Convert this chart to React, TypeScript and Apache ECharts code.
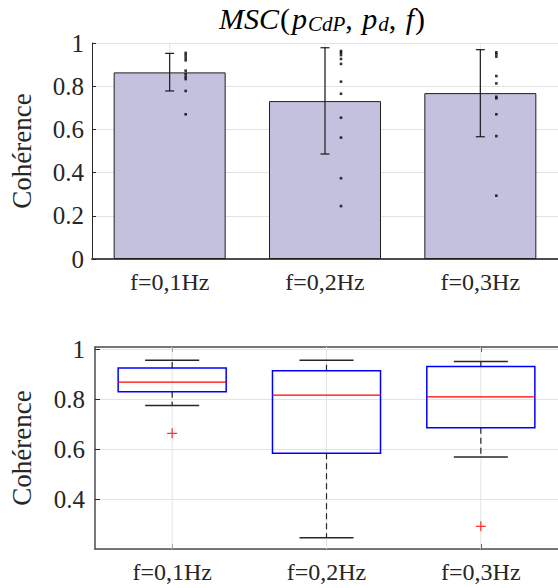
import React, { useEffect, useRef } from "react";
import * as echarts from "echarts";

const categories = ["f=0,1Hz", "f=0,2Hz", "f=0,3Hz"];
const barMeans = [0.864, 0.731, 0.768];
const errLow = [0.778, 0.486, 0.566];
const errHigh = [0.952, 0.978, 0.969];
const dotsF1 = [0.954, 0.943, 0.932, 0.92, 0.872, 0.856, 0.844, 0.833, 0.778, 0.67];
const dotsF2 = [0.963, 0.955, 0.944, 0.926, 0.903, 0.821, 0.765, 0.654, 0.562, 0.374, 0.245];
const dotsF3 = [0.957, 0.948, 0.937, 0.847, 0.813, 0.751, 0.744, 0.67, 0.569, 0.293];
const boxMin = [0.775, 0.245, 0.569];
const boxQ1 = [0.831, 0.584, 0.686];
const boxMedian = [0.869, 0.817, 0.81];
const boxQ3 = [0.926, 0.915, 0.932];
const boxMax = [0.957, 0.957, 0.952];
const outlierCat = [0, 2];
const outlierVal = [0.664, 0.291];
const topTicks = [0, 0.2, 0.4, 0.6, 0.8, 1];

const FONT = "'Liberation Serif', 'Times New Roman', Times, serif";
const TXT = "#262626";

export default function App() {
  const ref = useRef<HTMLDivElement>(null);
  useEffect(() => {
    if (!ref.current) return;
    const chart = echarts.init(ref.current, null, { renderer: "svg" });
    const dotSets = [dotsF1, dotsF2, dotsF3];
    const dotData: number[][] = [];
    dotSets.forEach((arr, i) => arr.forEach((v) => dotData.push([i, v])));

    const gridLineItem = (params: any, api: any) => {
      const x = api.coord([api.value(0), api.value(1)])[0];
      const cs = params.coordSys;
      return {
        type: "line",
        shape: { x1: x, y1: cs.y, x2: x, y2: cs.y + cs.height },
        style: { stroke: "#e3e3e3", lineWidth: 1 },
      };
    };

    const option: any = {
      animation: false,
      textStyle: { fontFamily: FONT, color: TXT },
      graphic: [
        {
          type: "text",
          x: 323,
          y: 18,
          style: {
            text: "{i|MSC}{r|(}{i|p}{s|CdP}{r|, }{i|p}{s|d}{r|, }{i|f}{r|)}",
            align: "center",
            verticalAlign: "middle",
            rich: {
              i: { fontFamily: FONT, fontStyle: "italic", fontSize: 30, lineHeight: 32, fill: "#000", padding: [0, 1, 0, 0] },
              r: { fontFamily: FONT, fontSize: 30, lineHeight: 32, fill: "#000", padding: [0, 2, 0, 0] },
              s: { fontFamily: FONT, fontStyle: "italic", fontSize: 21, lineHeight: 17, verticalAlign: "bottom", fill: "#000" },
            },
          },
        },
      ],
      grid: [
        { left: 87, top: 43, width: 479, height: 216 },
        { left: 90, top: 347, width: 476, height: 202 },
      ],
      xAxis: [
        {
          gridIndex: 0,
          type: "category",
          data: categories,
          axisLine: { lineStyle: { color: "#4d4d4d", width: 2 } },
          axisTick: { show: true, inside: true, alignWithLabel: true, length: 4, lineStyle: { color: TXT } },
          axisLabel: { fontFamily: FONT, fontSize: 24, color: TXT, margin: 11 },
          splitLine: { show: false },
        },
        {
          gridIndex: 1,
          type: "category",
          data: categories,
          position: "bottom",
          axisLine: { lineStyle: { color: "#4d4d4d", width: 1.5 } },
          axisTick: { show: true, inside: true, alignWithLabel: true, length: 5, lineStyle: { color: TXT } },
          axisLabel: { fontFamily: FONT, fontSize: 24, color: TXT, margin: 11 },
          splitLine: { show: false },
        },
        {
          gridIndex: 1,
          type: "category",
          data: categories,
          position: "top",
          axisLine: { lineStyle: { color: "#4d4d4d", width: 1.5 } },
          axisTick: { show: true, inside: true, alignWithLabel: true, length: 5, lineStyle: { color: TXT } },
          axisLabel: { show: false },
          splitLine: { show: false },
        },
      ],
      yAxis: [
        {
          gridIndex: 0,
          type: "value",
          min: topTicks[0],
          max: topTicks[topTicks.length - 1],
          interval: 0.2,
          axisLine: { show: true, lineStyle: { color: TXT, width: 1 } },
          axisTick: { show: true, inside: true, length: 4, lineStyle: { color: TXT } },
          axisLabel: { fontFamily: FONT, fontSize: 25, color: TXT, margin: 8 },
          splitLine: { show: true, lineStyle: { color: "#e3e3e3", width: 1 } },
          name: "Cohérence",
          nameLocation: "middle",
          nameGap: 57,
          nameRotate: 90,
          nameTextStyle: { fontFamily: FONT, fontSize: 27, color: TXT },
        },
        {
          gridIndex: 1,
          type: "value",
          min: 0.2,
          max: 1.01,
          interval: 0.2,
          axisLine: { show: true, lineStyle: { color: "#4d4d4d", width: 1.5 } },
          axisTick: { show: true, inside: true, length: 5, lineStyle: { color: TXT } },
          axisLabel: { fontFamily: FONT, fontSize: 25, color: TXT, margin: 10, showMinLabel: false, showMaxLabel: false },
          splitLine: { show: true, lineStyle: { color: "#e3e3e3", width: 1 } },
          name: "Cohérence",
          nameLocation: "middle",
          nameGap: 60,
          nameRotate: 90,
          nameTextStyle: { fontFamily: FONT, fontSize: 27, color: TXT },
        },
      ],
      series: [
        {
          type: "custom",
          xAxisIndex: 0,
          yAxisIndex: 0,
          z: 1,
          silent: true,
          renderItem: gridLineItem,
          data: categories.map((_, i) => [i, 0.5]),
        },
        {
          type: "bar",
          xAxisIndex: 0,
          yAxisIndex: 0,
          z: 2,
          barWidth: 112,
          data: barMeans,
          itemStyle: { color: "#c3c1dd", borderColor: "#1f1f1f", borderWidth: 1 },
        },
        {
          type: "custom",
          xAxisIndex: 0,
          yAxisIndex: 0,
          z: 3,
          encode: { x: 0, y: [1, 2] },
          renderItem: (params: any, api: any) => {
            const i = api.value(0);
            const lo = api.coord([i, api.value(1)]);
            const hi = api.coord([i, api.value(2)]);
            const cap = 4.5;
            const style = { stroke: "#1a1a1a", lineWidth: 1.2 };
            return {
              type: "group",
              children: [
                { type: "line", shape: { x1: lo[0], y1: lo[1], x2: hi[0], y2: hi[1] }, style },
                { type: "line", shape: { x1: lo[0] - cap, y1: lo[1], x2: lo[0] + cap, y2: lo[1] }, style },
                { type: "line", shape: { x1: hi[0] - cap, y1: hi[1], x2: hi[0] + cap, y2: hi[1] }, style },
              ],
            };
          },
          data: categories.map((_, i) => [i, errLow[i], errHigh[i]]),
        },
        {
          type: "scatter",
          xAxisIndex: 0,
          yAxisIndex: 0,
          z: 4,
          symbol: "rect",
          symbolSize: 2.6,
          symbolOffset: [16, 0],
          itemStyle: { color: "#000" },
          data: dotData,
        },
        {
          type: "custom",
          xAxisIndex: 1,
          yAxisIndex: 1,
          z: 1,
          silent: true,
          renderItem: gridLineItem,
          data: categories.map((_, i) => [i, 0.5]),
        },
        {
          type: "custom",
          xAxisIndex: 1,
          yAxisIndex: 1,
          z: 3,
          encode: { x: 0, y: [1, 2, 3, 4, 5] },
          renderItem: (params: any, api: any) => {
            const i = api.value(0);
            const w = api.size([1, 0])[0];
            const pMin = api.coord([i, api.value(1)]);
            const pQ1 = api.coord([i, api.value(2)]);
            const pMed = api.coord([i, api.value(3)]);
            const pQ3 = api.coord([i, api.value(4)]);
            const pMax = api.coord([i, api.value(5)]);
            const cx = pMin[0];
            const hb = w * 0.35;
            const hc = w * 0.175;
            const dash = { stroke: "#262626", lineWidth: 1.2, lineDash: [6, 4] };
            const cap = { stroke: "#262626", lineWidth: 1.5 };
            return {
              type: "group",
              children: [
                { type: "line", shape: { x1: cx, y1: pQ3[1], x2: cx, y2: pMax[1] }, style: dash },
                { type: "line", shape: { x1: cx, y1: pQ1[1], x2: cx, y2: pMin[1] }, style: dash },
                { type: "line", shape: { x1: cx - hc, y1: pMax[1], x2: cx + hc, y2: pMax[1] }, style: cap },
                { type: "line", shape: { x1: cx - hc, y1: pMin[1], x2: cx + hc, y2: pMin[1] }, style: cap },
                {
                  type: "rect",
                  shape: { x: cx - hb, y: pQ3[1], width: 2 * hb, height: pQ1[1] - pQ3[1] },
                  style: { fill: "none", stroke: "#0000ff", lineWidth: 1.5 },
                },
                { type: "line", shape: { x1: cx - hb, y1: pMed[1], x2: cx + hb, y2: pMed[1] }, style: { stroke: "#ff0000", lineWidth: 1.3 } },
              ],
            };
          },
          data: categories.map((_, i) => [i, boxMin[i], boxQ1[i], boxMedian[i], boxQ3[i], boxMax[i]]),
        },
        {
          type: "scatter",
          xAxisIndex: 1,
          yAxisIndex: 1,
          z: 4,
          symbol: "path://M4.4,0H5.6V4.4H10V5.6H5.6V10H4.4V5.6H0V4.4H4.4Z",
          symbolSize: 10,
          itemStyle: { color: "#ff0000" },
          data: outlierCat.map((c, k) => [c, outlierVal[k]]),
        },
      ],
    };
    chart.setOption(option);
    return () => chart.dispose();
  }, []);
  return (
    <div
      ref={ref}
      style={{ position: "absolute", left: 0, top: 0, width: 558, height: 588, background: "#fff" }}
    />
  );
}
